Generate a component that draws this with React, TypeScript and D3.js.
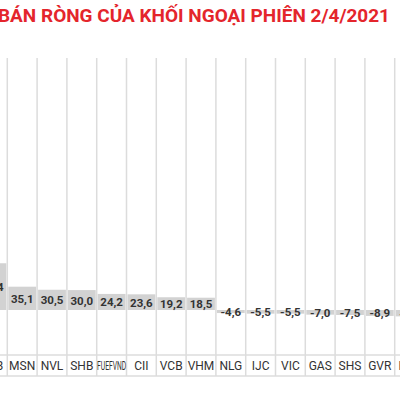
import React from 'react';
import * as d3 from 'd3';

// Tickers (first and last are cut off by the frame in the original)
const categories = ['STB', 'MSN', 'NVL', 'SHB', 'FUEFVND', 'CII', 'VCB', 'VHM', 'NLG', 'IJC', 'VIC', 'GAS', 'SHS', 'GVR', 'HT1'];
// Net value (tỷ đồng)
const values = [70.4, 35.1, 30.5, 30.0, 24.2, 23.6, 19.2, 18.5, -4.6, -5.5, -5.5, -7.0, -7.5, -8.9, -9.6];
const title = 'BÁN RÒNG CỦA KHỐI NGOẠI PHIÊN 2/4/2021';

const W = 400;
const H = 400;

const fmt = (v: number) => v.toFixed(1).replace('.', ',');

const App: React.FC = () => {
  const x = d3.scaleBand<string>().domain(categories).range([-22.5, -22.5 + categories.length * 29.8]).padding(0);
  const y = d3.scaleLinear().domain([-20, 100]).range([323.28, 243.6]);

  const gridTop = 58;
  const axisLine = 355;
  const bottomLine = 376;
  const lineColor = '#dcdcdc';

  return (
    <div style={{ position: 'fixed', left: 0, top: 0 }}>
      <svg width={W} height={H} style={{ display: 'block', background: '#fff' }}>
        <text
          x={390}
          y={22}
          textAnchor="end"
          fill="#e4252c"
          fontFamily="Roboto, 'Noto Sans', sans-serif"
          fontWeight={700}
          fontSize={19}
          textLength={392}
          lengthAdjust="spacingAndGlyphs"
        >
          {title}
        </text>

        {/* vertical grid separators */}
        {categories.map((c) => (
          <line
            key={'g' + c}
            x1={(x(c) as number) + x.bandwidth()}
            x2={(x(c) as number) + x.bandwidth()}
            y1={gridTop}
            y2={bottomLine}
            stroke={lineColor}
            strokeWidth={1.5}
          />
        ))}
        <line x1={0} x2={W} y1={axisLine} y2={axisLine} stroke={lineColor} strokeWidth={1.5} />
        <line x1={0} x2={W} y1={bottomLine} y2={bottomLine} stroke={lineColor} strokeWidth={1.5} />

        {/* bars */}
        {categories.map((c, i) => {
          const v = values[i];
          const y0 = y(0);
          const y1 = y(v);
          return (
            <rect
              key={'b' + c}
              x={(x(c) as number) + 1}
              width={x.bandwidth() - 2}
              y={Math.min(y0, y1)}
              height={Math.abs(y1 - y0)}
              fill="#d2d2d2"
            />
          );
        })}

        {/* value labels */}
        {categories.map((c, i) => {
          const v = values[i];
          const cy = (y(0) + y(v)) / 2 + 1.5;
          return (
            <text
              key={'v' + c}
              x={(x(c) as number) + x.bandwidth() / 2}
              y={cy}
              textAnchor="middle"
              dominantBaseline="middle"
              fontFamily="Roboto, sans-serif"
              fontWeight={700}
              fontSize={11.5}
              fill="#333"
            >
              {fmt(v)}
            </text>
          );
        })}

        {/* category labels; long tickers squeezed horizontally */}
        {categories.map((c) => {
          const cx = (x(c) as number) + x.bandwidth() / 2;
          const sx = c.length > 5 ? 0.56 : 1;
          return (
            <text
              key={'c' + c}
              transform={`translate(${cx},367) scale(${sx},1)`}
              textAnchor="middle"
              dominantBaseline="middle"
              fontFamily="Roboto, sans-serif"
              fontSize={12}
              fill="#333"
            >
              {c}
            </text>
          );
        })}
      </svg>
    </div>
  );
};

export default App;
